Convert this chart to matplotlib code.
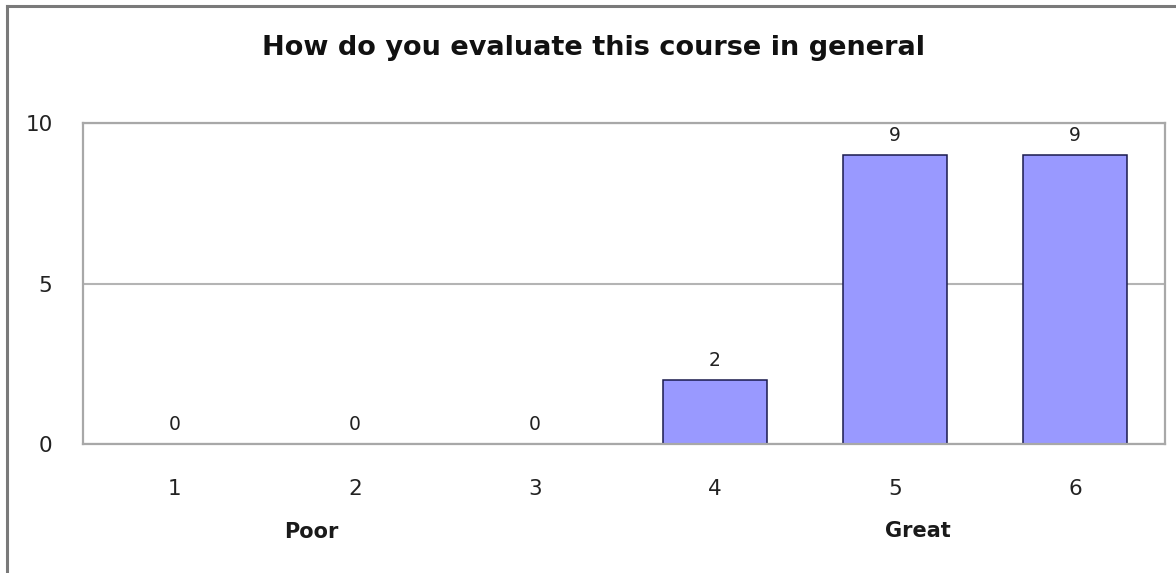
import matplotlib
matplotlib.use("Agg")
import matplotlib.pyplot as plt
from matplotlib.lines import Line2D

categories = ["1", "2", "3", "4", "5", "6"]
values = [0, 0, 0, 2, 9, 9]
yticks = [0, 5, 10]
title = "How do you evaluate this course in general"
low_label = "Poor"
high_label = "Great"

plt.rcParams['font.family'] = ['DejaVu Sans']

fig = plt.figure(figsize=(11.76, 5.73), dpi=100)
ax = fig.add_axes([83/1176, 1 - 444/573, (1165 - 83)/1176, (444 - 123)/573])

x = list(range(1, len(categories) + 1))
bars = ax.bar(x, values, width=0.58, color="#9999ff", edgecolor="#1a1a4d", linewidth=1.1, zorder=3)

for xi, v in zip(x, values):
    ax.annotate(str(v), (xi, v), xytext=(0, 7), textcoords="offset points",
                ha="center", va="bottom", fontsize=13.5, color="#222222")

ax.set_xlim(0.49, 6.5)
ax.set_ylim(0, 10)
ax.set_yticks(yticks)
ax.set_yticklabels([str(t) for t in yticks])
ax.set_xticks(x)
ax.set_xticklabels(categories)
ax.tick_params(axis="both", length=0, labelsize=15.5, colors="#222222")
ax.tick_params(axis="y", pad=22)
ax.tick_params(axis="x", pad=25)

ax.yaxis.grid(True, color="#b4b4b4", linewidth=1.5, zorder=0)
for s in ax.spines.values():
    s.set_color("#a8a8a8")
    s.set_linewidth(1.6)
    s.set_zorder(4)

ax.text(1.76, -2.75, low_label, ha="center", va="center", fontsize=15, fontweight="bold", color="#1a1a1a")
ax.text(5.13, -2.7, high_label, ha="center", va="center", fontsize=15, fontweight="bold", color="#1a1a1a")

fig.text(593/1176, 1 - 48/573, title, ha="center", va="center", fontsize=19.5, fontweight="bold", color="#111111")

# outer figure frame (left and top visible)
fig.add_artist(Line2D([7/1176, 7/1176], [0, 1 - 6/573], transform=fig.transFigure, color="#7a7a7a", linewidth=2.2))
fig.add_artist(Line2D([7/1176, 1], [1 - 6/573, 1 - 6/573], transform=fig.transFigure, color="#7a7a7a", linewidth=2.2))

fig.savefig("out.png", dpi=100, facecolor="white")
